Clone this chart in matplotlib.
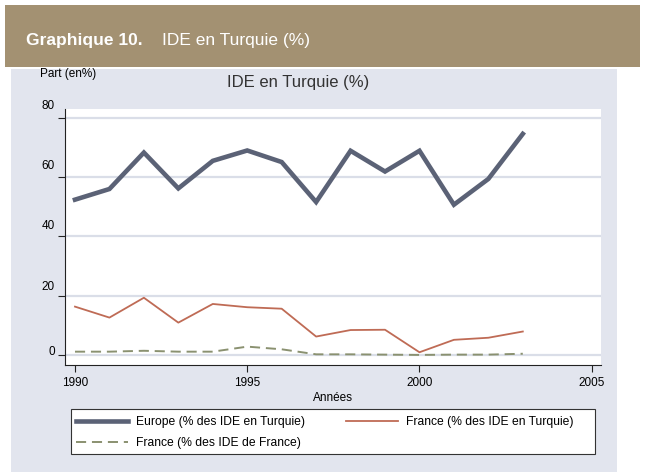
import matplotlib
matplotlib.use("Agg")
import matplotlib.pyplot as plt
from matplotlib.patches import Rectangle
from matplotlib.lines import Line2D
import matplotlib.transforms as mtransforms

years = [1990, 1991, 1992, 1993, 1994, 1995, 1996, 1997, 1998, 1999, 2000, 2001, 2002, 2003]
europe = [52.4, 56.0, 68.3, 56.2, 65.5, 69.0, 65.1, 51.6, 68.9, 61.9, 68.9, 50.7, 59.4, 74.6]
france_tr = [16.3, 12.6, 19.3, 10.9, 17.2, 16.1, 15.6, 6.2, 8.4, 8.5, 0.9, 5.1, 5.8, 7.9]
france_fr = [1.1, 1.1, 1.4, 1.1, 1.1, 2.8, 1.9, 0.2, 0.2, 0.1, 0.0, 0.1, 0.1, 0.4]
yticks = [0, 20, 40, 60, 80]
xticks = [1990, 1995, 2000, 2005]
labels = ["Europe (% des IDE en Turquie)", "France (% des IDE en Turquie)",
          "France (% des IDE de France)"]

W, H = 645, 472
fig = plt.figure(figsize=(W / 100, H / 100), dpi=100)
fig.patch.set_facecolor("white")

def fx(px):
    return px / W

def fy(py):
    return 1 - py / H

# header band
fig.patches.append(Rectangle((fx(5), fy(67)), fx(635), (62) / H, transform=fig.transFigure,
                             facecolor="#A39172", edgecolor="none", zorder=-5))
# grey panel
fig.patches.append(Rectangle((fx(11), fy(472)), fx(606), (472 - 69) / H, transform=fig.transFigure,
                             facecolor="#E2E5EE", edgecolor="none", zorder=-5))
# legend box
fig.patches.append(Rectangle((fx(70.5), fy(454)), fx(595 - 70.5), (454 - 409) / H,
                             transform=fig.transFigure, facecolor="white",
                             edgecolor="#333333", lw=0.8, zorder=-4))

hdr_font = ["Liberation Sans Narrow", "Liberation Sans", "DejaVu Sans"]
fig.text(fx(26), fy(40), "Graphique 10.", color="white", fontsize=12.5, fontweight="bold",
         family=hdr_font, va="center", ha="left")
fig.text(fx(162), fy(40), "IDE en Turquie (%)", color="white", fontsize=12.5,
         family=hdr_font, va="center", ha="left")

txt_font = ["Liberation Sans", "DejaVu Sans"]
fig.text(fx(298), fy(82), "IDE en Turquie (%)", color="#333333", fontsize=12,
         family=txt_font, va="center", ha="center")
fig.text(fx(40), fy(74), "Part (en%)", color="black", fontsize=8.5,
         family=txt_font, va="center", ha="left")

ax = fig.add_axes([fx(65), fy(365), fx(601 - 65), (365 - 109) / H])
ax.set_zorder(2)
ax.set_facecolor("white")
ax.set_xlim(1989.71, 2005.27)
ax.set_ylim(-3.4, 83.0)

for v in yticks:
    ax.axhline(v, color="#DADEE8", lw=1.6, zorder=1)

dash = (0, (5.2, 3.0))
ax.plot(years, europe, color="#5B6276", lw=3.3, zorder=3, solid_joinstyle="miter")
ax.plot(years, france_tr, color="#BF6B55", lw=1.3, zorder=3)
ax.plot(years, france_fr, color="#8A9170", lw=1.4, ls=dash, zorder=3)

for s in ["top", "right"]:
    ax.spines[s].set_visible(False)
for s in ["left", "bottom"]:
    ax.spines[s].set_color("#222222")
    ax.spines[s].set_linewidth(0.8)

ax.set_yticks(yticks)
ax.set_yticklabels([])
ax.tick_params(axis="y", length=5, width=0.8, color="#222222", direction="out")
trans = mtransforms.blended_transform_factory(ax.transAxes, ax.transData)
label_lift = {0: 3, 20: 9, 40: 10, 60: 11.5, 80: 12}
for v in yticks:
    off = mtransforms.ScaledTranslation(-10 / 100, label_lift[v] / 100, fig.dpi_scale_trans)
    ax.text(0, v, str(v), transform=trans + off, ha="right", va="center",
            fontsize=8.5, family=txt_font, color="black")

ax.set_xticks(xticks)
ax.set_xticklabels([str(x) for x in xticks], fontsize=8.5, family=txt_font)
ax.tick_params(axis="x", length=5, width=0.8, color="#222222", direction="out", pad=4)
ax.set_xlabel("Années", fontsize=8.5, family=txt_font, labelpad=2)

h_eu = Line2D([], [], color="#5B6276", lw=3.3)
h_tr = Line2D([], [], color="#BF6B55", lw=1.3)
h_fr = Line2D([], [], color="#8A9170", lw=1.4, ls=dash)
leg = fig.legend([h_eu, h_fr, h_tr], [labels[0], labels[2], labels[1]], loc="upper left",
                 bbox_to_anchor=(fx(76), fy(416)),
                 ncol=2, frameon=False,
                 prop={"family": txt_font, "size": 8.7}, handlelength=4.3,
                 borderaxespad=0, labelspacing=0.75, columnspacing=3.4, handletextpad=0.65,
                 borderpad=0)
leg.set_zorder(3)

fig.savefig("out.png", dpi=100)
